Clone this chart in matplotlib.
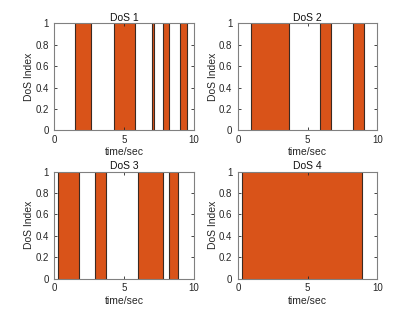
import matplotlib.pyplot as plt

plt.rcParams['font.family'] = ['Liberation Sans', 'DejaVu Sans']

# attack intervals (start, end) in seconds for each DoS channel
dos1_start = [1.47, 4.31, 7.01, 7.83, 9.04]
dos1_end = [2.65, 5.81, 7.18, 8.19, 9.52]
dos2_start = [0.94, 5.90, 8.22]
dos2_end = [3.69, 6.70, 9.02]
dos3_start = [0.24, 2.92, 6.00, 8.22]
dos3_end = [1.76, 3.69, 7.83, 8.84]
dos4_start = [0.27]
dos4_end = [8.87]

titles = ['DoS 1', 'DoS 2', 'DoS 3', 'DoS 4']
starts = [dos1_start, dos2_start, dos3_start, dos4_start]
ends = [dos1_end, dos2_end, dos3_end, dos4_end]

fig = plt.figure(figsize=(4.17, 3.13), dpi=100)

# MATLAB subplot(2,2,k) positions
pos = [[0.13, 0.5838, 0.3347, 0.3412],
       [0.5703, 0.5838, 0.3347, 0.3412],
       [0.13, 0.11, 0.3347, 0.3412],
       [0.5703, 0.11, 0.3347, 0.3412]]

fs_tick = 7
fs_lab = 7.5
for k in range(4):
    ax = fig.add_axes(pos[k])
    w = [e - s for s, e in zip(starts[k], ends[k])]
    ax.bar(starts[k], [1] * len(w), width=w, align='edge', color='#D95319',
           linewidth=0, zorder=1)
    # dark vertical edges of each block
    ax.vlines(starts[k] + ends[k], 0, 1, color='#3b2a22', linewidth=0.8, zorder=2)
    ax.set_xlim(0, 10)
    ax.set_ylim(0, 1)
    ax.set_xticks([0, 5, 10])
    ax.set_yticks([0, 0.2, 0.4, 0.6, 0.8, 1])
    ax.set_yticklabels(['0', '0.2', '0.4', '0.6', '0.8', '1'])
    ax.tick_params(direction='in', length=2.5, width=0.6, colors='#262626',
                   labelsize=fs_tick, top=True, right=True)
    ax.tick_params(axis='y', pad=4)
    ax.tick_params(axis='x', pad=3.5)
    for sp in ax.spines.values():
        sp.set_color('#808080')
        sp.set_linewidth(0.8)
        sp.set_zorder(3)
    ax.set_title(titles[k], fontsize=fs_lab, pad=2, color='#111111')
    ax.set_xlabel('time/sec', fontsize=fs_lab, labelpad=1.5, color='#262626')
    ax.set_ylabel('DoS Index', fontsize=fs_lab, labelpad=0.5, color='#262626')

fig.savefig('out.png', dpi=100)
